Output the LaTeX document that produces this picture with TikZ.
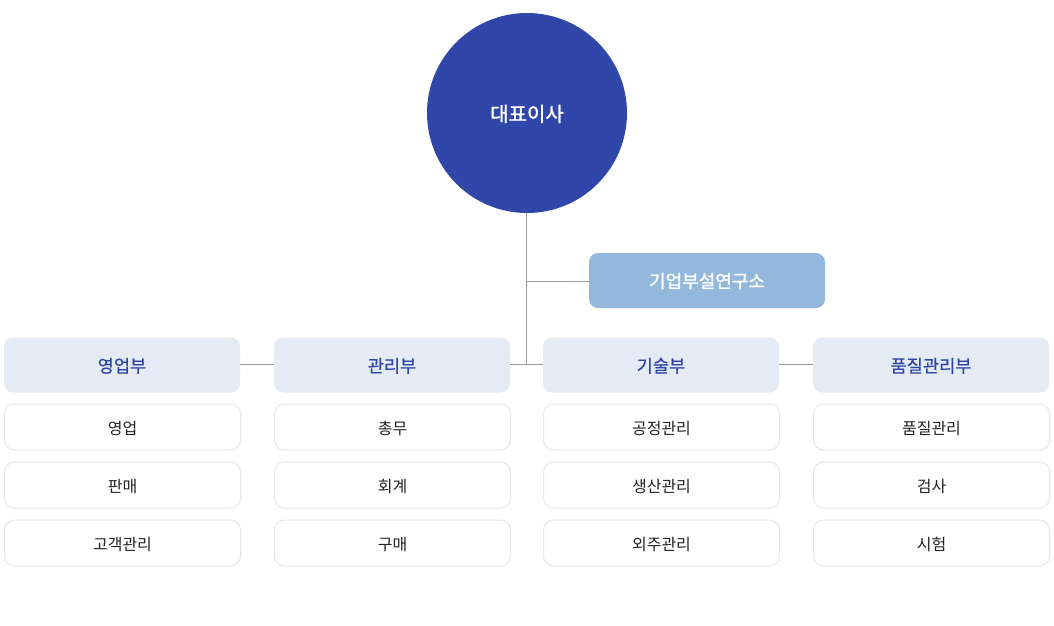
\documentclass[tikz,border=0pt]{standalone}
\usepackage{fontspec}
\setmainfont{Noto Sans CJK KR}
\newfontfamily\krmed[FakeBold=0.6]{Noto Sans CJK KR}
\newfontfamily\krsemi[FakeBold=1.4]{Noto Sans CJK KR}
\definecolor{ceo}{HTML}{3146A9}
\definecolor{lab}{HTML}{94B8DC}
\definecolor{hdfill}{HTML}{E4EBF4}
\definecolor{hdtext}{HTML}{2F44A6}
\definecolor{subline}{HTML}{E6E6E6}
\definecolor{conn}{HTML}{9A9A9A}
\definecolor{subtext}{HTML}{222222}
\tikzset{
  ceonode/.style={circle, fill=ceo, minimum size=200pt, inner sep=0pt, text=white, font=\krsemi\fontsize{20}{24}\selectfont, text height=16.6pt, text depth=0pt},
  labnode/.style={rounded corners=9pt, fill=lab, minimum width=236pt, minimum height=55pt, inner sep=0pt, text=white, font=\krsemi\fontsize{18}{21}\selectfont, text height=14.6pt, text depth=0pt},
  hdnode/.style={rounded corners=9pt, fill=hdfill, minimum width=236pt, minimum height=55pt, inner sep=0pt, text=hdtext, font=\krmed\fontsize{17.6}{21}\selectfont, text height=14.8pt, text depth=0pt},
  subnode/.style={rounded corners=10pt, draw=subline, line width=1pt, fill=white, minimum width=236pt, minimum height=46pt, inner sep=0pt, text=subtext, font=\fontsize{16}{19}\selectfont, text height=14.7pt, text depth=0pt},
  connline/.style={draw=conn, line width=1pt}
}
\begin{document}
\begin{tikzpicture}[x=1pt,y=-1pt]
\useasboundingbox[fill=white] (0,0) rectangle (1054,625);
\node[ceonode] (ceo) at (527,113) {대표이사};
\node[labnode] (lab) at (707,280.5) {기업부설연구소};
\node[hdnode] (h1) at (122,365) {영업부};
\node[hdnode] (h2) at (392,365) {관리부};
\node[hdnode] (h3) at (661,365) {기술부};
\node[hdnode] (h4) at (931,365) {품질관리부};
\node[subnode] (s11) at (122.5,427) {영업};
\node[subnode] (s12) at (122.5,485) {판매};
\node[subnode] (s13) at (122.5,543) {고객관리};
\node[subnode] (s21) at (392.5,427) {총무};
\node[subnode] (s22) at (392.5,485) {회계};
\node[subnode] (s23) at (392.5,543) {구매};
\node[subnode] (s31) at (661.5,427) {공정관리};
\node[subnode] (s32) at (661.5,485) {생산관리};
\node[subnode] (s33) at (661.5,543) {외주관리};
\node[subnode] (s41) at (931.5,427) {품질관리};
\node[subnode] (s42) at (931.5,485) {검사};
\node[subnode] (s43) at (931.5,543) {시험};
\coordinate (j) at (526,364.5);
\coordinate (jl) at (526,281);
\draw[connline] (ceo.south -| j) -- (j);
\draw[connline] (jl) -- (lab.west |- jl);
\draw[connline] (h1.east |- j) -- (h2.west |- j);
\draw[connline] (h2.east |- j) -- (h3.west |- j);
\draw[connline] (h3.east |- j) -- (h4.west |- j);
\end{tikzpicture}
\end{document}
